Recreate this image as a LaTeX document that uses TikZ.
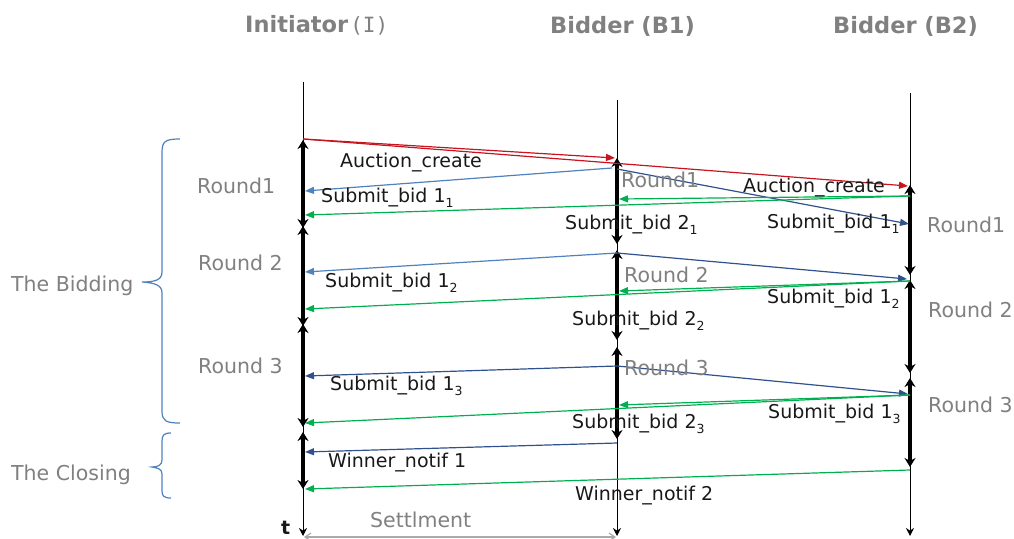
\documentclass[tikz,border=0pt]{standalone}
\usepackage{fontspec}
\setmainfont{DejaVu Sans}
\newfontfamily\parenfont{DejaVu Sans Mono}
\usetikzlibrary{arrows.meta}

\definecolor{msgred}{RGB}{200,20,30}
\definecolor{msgblue}{RGB}{79,129,189}
\definecolor{msgnavy}{RGB}{47,82,143}
\definecolor{msggreen}{RGB}{0,176,80}
\definecolor{labgray}{RGB}{128,128,128}
\definecolor{settlegray}{RGB}{170,170,170}

% lowered index used in the bid labels
\newcommand\lowidx[1]{\raisebox{-0.28em}{\fontsize{12.5}{12}\selectfont #1}}

\begin{document}
\begin{tikzpicture}[x=1pt,y=-1pt,
  lifeline/.style={draw=black,line width=1pt,-{Stealth[length=8pt,width=8pt]}},
  phase/.style={draw=black,line width=3.8pt,
     {Stealth[length=9pt,width=11pt]}-{Stealth[length=9pt,width=11pt]}},
  msg/.style={line width=1.2pt,-{Triangle[length=9pt,width=7pt]}},
  msglabel/.style={anchor=base west,inner sep=0pt,font=\fontsize{19}{20}\selectfont,text=black!90},
  grouplabel/.style={anchor=base west,inner sep=0pt,font=\fontsize{20.5}{22}\selectfont,text=labgray},
  header/.style={anchor=base west,inner sep=0pt,font=\fontsize{22.5}{24}\selectfont\bfseries,text=labgray},
  bracestyle/.style={draw=msgblue,line width=1.2pt}]

\useasboundingbox (0,0) rectangle (1014,538);

% lifeline ends
\coordinate (Itop) at (303,82);   \coordinate (Ibot) at (303,536);
\coordinate (Atop) at (617,100);  \coordinate (Abot) at (617,536);
\coordinate (Btop) at (910,93);   \coordinate (Bbot) at (910,536);

% headers
\node[header] (hI) at (245,32) {Initiator\hspace{2pt}{\mdseries\parenfont\fontsize{21}{22}\selectfont(I)}};
\node[header] (hA) at (550,33) {Bidder (B1)};
\node[header] (hB) at (833,33) {Bidder (B2)};

% lifelines
\draw[lifeline] (Itop) -- (Ibot);
\draw[lifeline] (Atop) -- (Abot);
\draw[lifeline] (Btop) -- (Bbot);

% phase segments on the initiator
\coordinate (I1) at (303,140); \coordinate (I2) at (303,228);
\coordinate (I2b) at (303,226); \coordinate (I3) at (303,326);
\coordinate (I3b) at (303,324); \coordinate (I4) at (303,427);
\coordinate (I5) at (303,432); \coordinate (I6) at (303,489);
\draw[phase] (I1) -- (I2);
\draw[phase] (I2b) -- (I3);
\draw[phase] (I3b) -- (I4);
\draw[phase] (I5) -- (I6);

% phase segments on bidder 1
\coordinate (A1) at (617,158); \coordinate (A2) at (617,244);
\coordinate (A3) at (617,250); \coordinate (A4) at (617,340);
\coordinate (A5) at (617,347); \coordinate (A6) at (617,439);
\draw[phase] (A1) -- (A2);
\draw[phase] (A3) -- (A4);
\draw[phase] (A5) -- (A6);

% phase segments on bidder 2
\coordinate (B1) at (910,185); \coordinate (B2) at (910,275);
\coordinate (B3) at (910,280); \coordinate (B4) at (910,373);
\coordinate (B5) at (910,378); \coordinate (B6) at (910,467);
\draw[phase] (B1) -- (B2);
\draw[phase] (B3) -- (B4);
\draw[phase] (B5) -- (B6);

% message end points
\coordinate (acS) at (303,139);
\coordinate (acA) at (615,158);  \coordinate (acB) at (908,186);
\coordinate (s11S) at (612,168); \coordinate (s11I) at (305,191);
\coordinate (s11T) at (617,169); \coordinate (s11B) at (909,224);
\coordinate (s21S) at (910,196); \coordinate (s21A) at (619,199); \coordinate (s21I) at (305,215);
\coordinate (s12S) at (617,253); \coordinate (s12I) at (305,272); \coordinate (s12B) at (907,279);
\coordinate (s22S) at (910,281); \coordinate (s22A) at (619,291); \coordinate (s22I) at (305,309);
\coordinate (s13S) at (617,366); \coordinate (s13I) at (305,376); \coordinate (s13B) at (908,394);
\coordinate (s23S) at (910,395); \coordinate (s23A) at (619,405); \coordinate (s23I) at (305,423);
\coordinate (w1S) at (617,443);  \coordinate (w1I) at (305,452);
\coordinate (w2S) at (910,470);  \coordinate (w2I) at (305,489);

% auction creation
\draw[msg,msgred] (acS) -- (acA);
\draw[msg,msgred] (acS) -- (acB);
% round 1
\draw[msg,msgblue] (s11S) -- (s11I);
\draw[msg,msgnavy] (s11T) -- (s11B);
\draw[msg,msggreen] (s21S) -- (s21A);
\draw[msg,msggreen] (s21S) -- (s21I);
% round 2
\draw[msg,msgblue] (s12S) -- (s12I);
\draw[msg,msgnavy] (s12S) -- (s12B);
\draw[msg,msggreen] (s22S) -- (s22A);
\draw[msg,msggreen] (s22S) -- (s22I);
% round 3
\draw[msg,msgnavy] (s13S) -- (s13I);
\draw[msg,msgnavy] (s13S) -- (s13B);
\draw[msg,msggreen] (s23S) -- (s23A);
\draw[msg,msggreen] (s23S) -- (s23I);
% closing
\draw[msg,msgnavy] (w1S) -- (w1I);
\draw[msg,msggreen] (w2S) -- (w2I);

% settlement span
\coordinate (stL) at (304,537); \coordinate (stR) at (616,537);
\draw[settlegray,line width=1.2pt,{Straight Barb[length=6pt,width=8pt]}-{Straight Barb[length=6pt,width=8pt]}] (stL) -- (stR);

% message labels
\node[msglabel] (lAC1) at (340,167) {Auction\_create};
\node[msglabel] (lAC2) at (743,192) {Auction\_create};
\node[msglabel] (l11a) at (321,202) {Submit\_bid 1\lowidx{1}};
\node[msglabel] (l11b) at (767,228) {Submit\_bid 1\lowidx{1}};
\node[msglabel] (l21)  at (565,229) {Submit\_bid 2\lowidx{1}};
\node[msglabel] (l12a) at (325,287) {Submit\_bid 1\lowidx{2}};
\node[msglabel] (l12b) at (767,303) {Submit\_bid 1\lowidx{2}};
\node[msglabel] (l22)  at (572,325) {Submit\_bid 2\lowidx{2}};
\node[msglabel] (l13a) at (330,390) {Submit\_bid 1\lowidx{3}};
\node[msglabel] (l13b) at (768,418) {Submit\_bid 1\lowidx{3}};
\node[msglabel] (l23)  at (572,428) {Submit\_bid 2\lowidx{3}};
\node[msglabel] (lW1)  at (328,467) {Winner\_notif 1};
\node[msglabel] (lW2)  at (575,500) {Winner\_notif 2};
\node[msglabel,font=\fontsize{19}{20}\selectfont\bfseries] (lt) at (281,534) {t};

% round labels
\node[grouplabel] (rI1) at (197,193) {Round1};
\node[grouplabel] (rI2) at (198,270) {Round 2};
\node[grouplabel] (rI3) at (198,373) {Round 3};
\node[grouplabel] (rA1) at (621,187) {Round1};
\node[grouplabel] (rA2) at (624,282) {Round 2};
\node[grouplabel] (rA3) at (624,375) {Round 3};
\node[grouplabel] (rB1) at (927,232) {Round1};
\node[grouplabel] (rB2) at (928,317) {Round 2};
\node[grouplabel] (rB3) at (928,412) {Round 3};
\node[grouplabel] (lset) at (370,527) {Settlment};

% phase braces
\node[grouplabel] (pBid) at (11,291) {The Bidding};
\node[grouplabel] (pClo) at (11,480) {The Closing};
\draw[bracestyle] (180,139) .. controls (166,139) and (162,141) .. (162,152)
  -- (162,272) .. controls (162,280) and (155,282) .. (142,282)
  .. controls (155,283) and (162,285) .. (162,293)
  -- (162,411) .. controls (162,421) and (166,423) .. (180,423);
\draw[bracestyle] (171,433) .. controls (164,433) and (162,435) .. (162,441)
  -- (162,460) .. controls (162,465) and (158,467) .. (152,467)
  .. controls (158,468) and (162,469) .. (162,474)
  -- (162,491) .. controls (162,496) and (164,498) .. (171,498);

\end{tikzpicture}
\end{document}
